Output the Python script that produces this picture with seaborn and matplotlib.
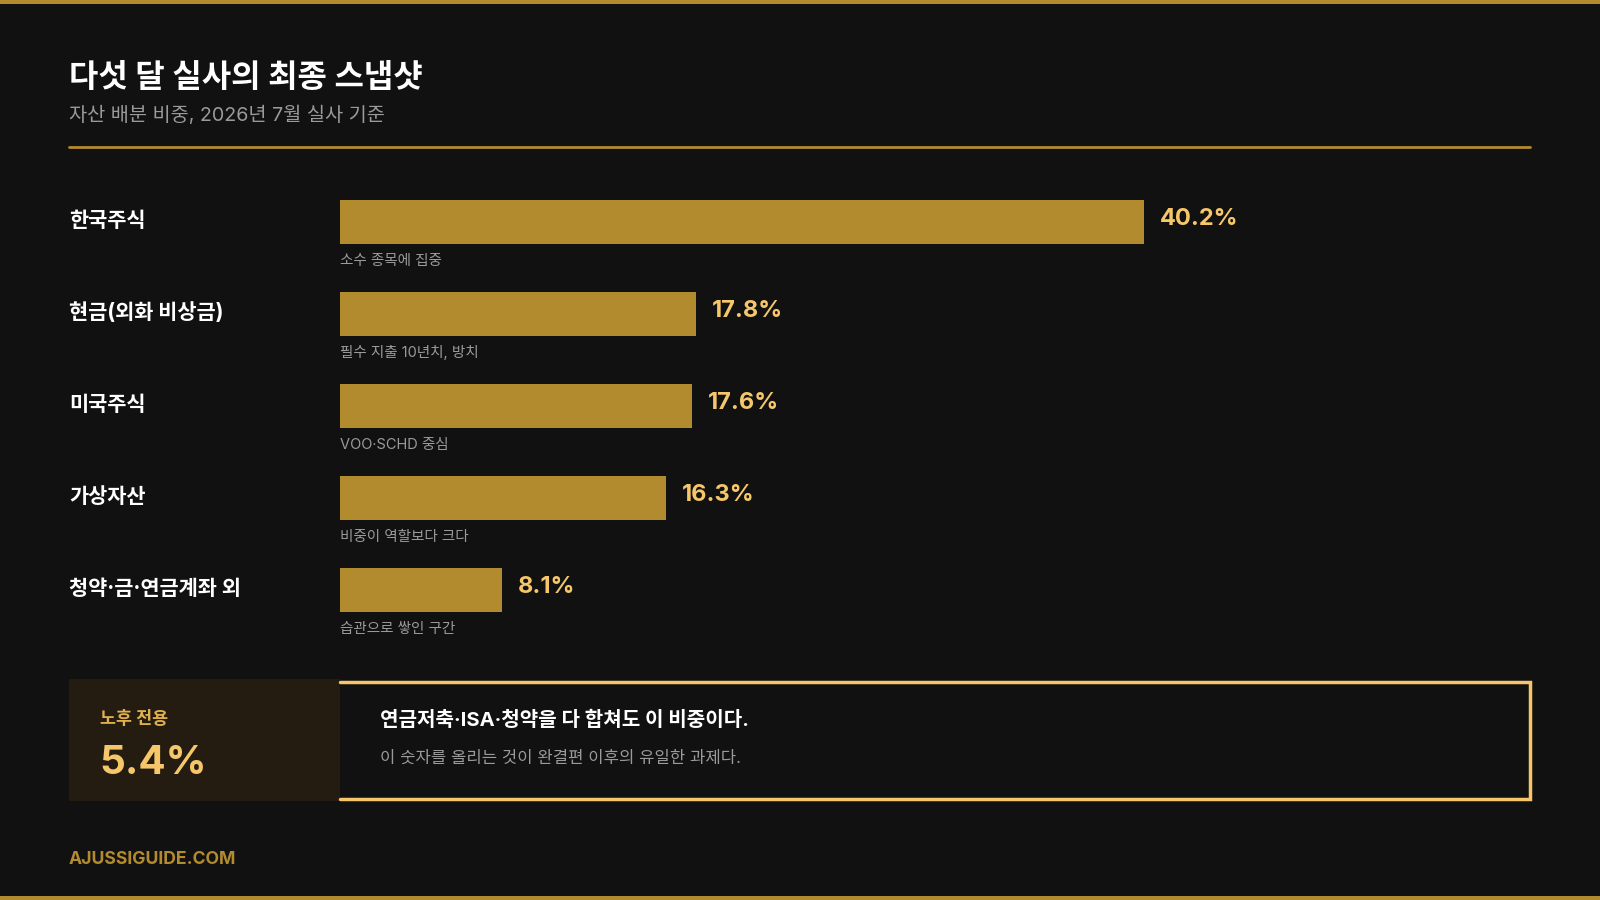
import matplotlib
matplotlib.use("Agg")
import matplotlib.pyplot as plt
import matplotlib.transforms as mtransforms
from matplotlib.patches import Rectangle
import seaborn as sns
import pandas as pd

# data
categories = ['한국주식', '현금(외화 비상금)', '미국주식', '가상자산', '청약·금·연금계좌 외']
shares = [40.2, 17.8, 17.6, 16.3, 8.1]
notes = ['소수 종목에 집중', '필수 지출 10년치, 방치', 'VOO·SCHD 중심', '비중이 역할보다 크다', '습관으로 쌓인 구간']
pension_share = 5.4

BG = '#111111'
GOLD = '#b38b2f'
LIGHT_GOLD = '#f5c76a'
GRAY = '#9a9a9a'

sns.set_theme(style='dark')
# Inter for latin/digits, Noto CJK for hangul
plt.rcParams['font.family'] = ['Inter', 'Noto Sans CJK KR', 'DejaVu Sans']
plt.rcParams['axes.facecolor'] = BG
plt.rcParams['figure.facecolor'] = BG

df = pd.DataFrame({'category': categories, 'share': shares})

fig = plt.figure(figsize=(16, 9), dpi=100)
W, H = 1600, 900

def fx(px):
    return px / W

def fy(py):
    return 1 - py / H

# top / bottom gold strips
fig.add_artist(Rectangle((0, fy(4)), 1, 4 / H, transform=fig.transFigure, color=GOLD, lw=0))
fig.add_artist(Rectangle((0, 0), 1, 4 / H, transform=fig.transFigure, color=GOLD, lw=0))

# header
fig.text(fx(69), fy(78), '다섯 달 실사의 최종 스냅샷', color='white', fontsize=23,
         fontweight='bold', va='center', ha='left')
fig.text(fx(69), fy(115), '자산 배분 비중, 2026년 7월 실사 기준', color=GRAY, fontsize=14.2,
         va='center', ha='left')
fig.add_artist(plt.Line2D([fx(69), fx(1530)], [fy(147), fy(147)], transform=fig.transFigure,
                          color=GOLD, lw=2))

# bar area: rows 92px apart, first bar centre at y=222
px_per_pct = 20
ax_left, ax_right = 340, 1531
ax = fig.add_axes([fx(ax_left), fy(636), (ax_right - ax_left) / W, 460 / H])
sns.barplot(data=df, x='share', y='category', orient='h', color=GOLD, width=44 / 92,
            saturation=1, edgecolor='none', linewidth=0, ax=ax)
ax.set_xlim(0, (ax_right - ax_left) / px_per_pct)
ax.set_ylim(4.5, -0.5)
ax.set_axis_off()

label_tf = mtransforms.blended_transform_factory(fig.transFigure, ax.transData)
for i, (cat, val, note) in enumerate(zip(categories, shares, notes)):
    ax.text(fx(69), i - 0.015, cat, transform=label_tf, color='white', fontsize=15,
            fontweight='bold', va='center', ha='left')
    ax.text(val + 0.8, i - 0.035, f'{val}%', color=LIGHT_GOLD, fontsize=17,
            fontweight='bold', va='center', ha='left')
    ax.text(0, i + 0.42, note, color=GRAY, fontsize=10.5, va='center', ha='left')

# bottom callout: dark panel on the left, gold frame (open on the left) on the right
fig.add_artist(Rectangle((fx(69), fy(801)), (340 - 69) / W, 122 / H, transform=fig.transFigure,
                         color='#241c10', lw=0, zorder=2))
fig.add_artist(plt.Line2D([fx(340), fx(1530), fx(1530), fx(340)],
                          [fy(682), fy(682), fy(799), fy(799)], transform=fig.transFigure,
                          color=LIGHT_GOLD, lw=2.5, solid_joinstyle='miter'))
fig.text(fx(100), fy(719), '노후 전용', color='#e0b04f', fontsize=12.5, fontweight='bold',
         va='center', ha='left', zorder=3)
fig.text(fx(99), fy(764), f'{pension_share}%', color=LIGHT_GOLD, fontsize=29, fontweight='bold',
         va='center', ha='left', zorder=3)
fig.text(fx(380), fy(720), '연금저축·ISA·청약을 다 합쳐도 이 비중이다.', color='white', fontsize=14.5,
         fontweight='bold', va='center', ha='left')
fig.text(fx(380), fy(758), '이 숫자를 올리는 것이 완결편 이후의 유일한 과제다.', color=GRAY, fontsize=12,
         va='center', ha='left')

# footer
fig.text(fx(69), fy(860), 'AJUSSIGUIDE.COM', color=GOLD, fontsize=12.7, fontweight='bold',
         va='center', ha='left')

fig.savefig('out.png', dpi=100, facecolor=BG)
